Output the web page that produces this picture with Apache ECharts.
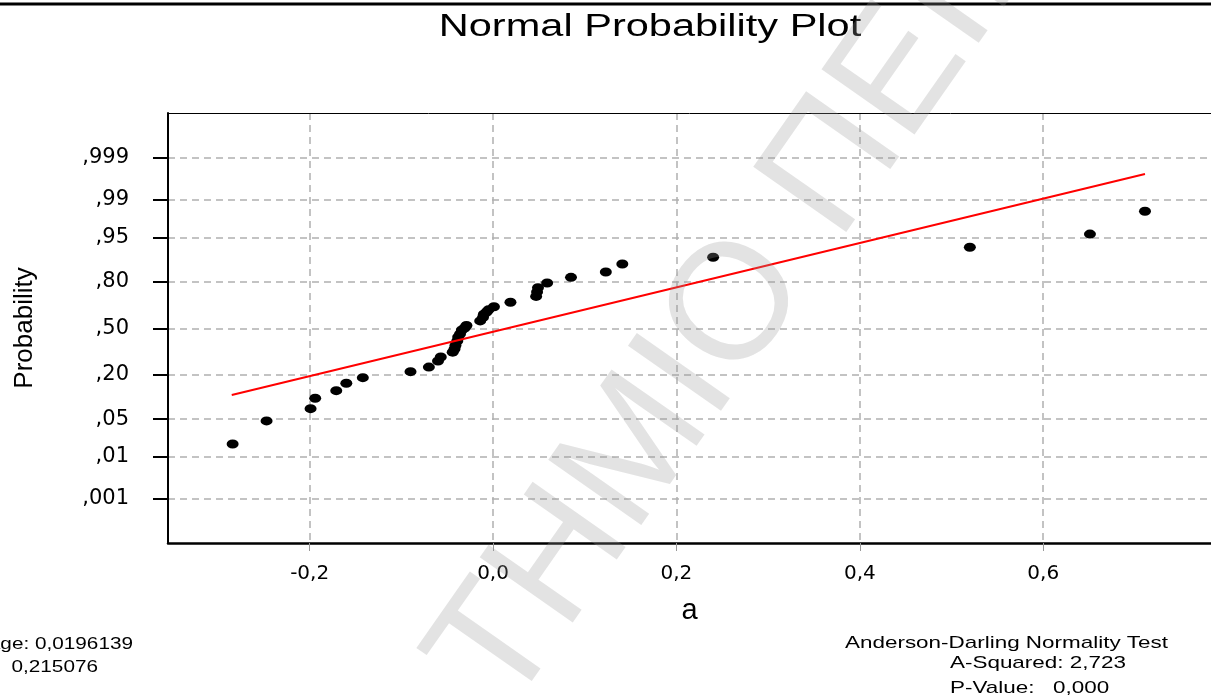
<!DOCTYPE html>
<html>
<head>
<meta charset="utf-8">
<title>Normal Probability Plot</title>
<script src="https://cdn.jsdelivr.net/npm/echarts@6/dist/echarts.min.js"></script>
<style>
  html, body { margin: 0; padding: 0; background: #ffffff; }
  #chart { width: 1211px; height: 699px; }
</style>
</head>
<body>
<div id="chart"></div>
<script>
// Sample values of "a", sorted ascending
const sampleA = [-0.284, -0.247, -0.199, -0.194, -0.171, -0.160, -0.142, -0.090, -0.070, -0.060,
                 -0.057, -0.044, -0.042, -0.041, -0.039, -0.038, -0.036, -0.034, -0.031, -0.029,
                 -0.014, -0.011, -0.010, -0.007, -0.005, 0.001, 0.019, 0.047, 0.048, 0.049,
                 0.059, 0.085, 0.123, 0.141, 0.240, 0.520, 0.651, 0.711];
// Cumulative probability of each sample (percent)
const probPct = [1.80, 4.66, 7.26, 10.24, 12.92, 15.96, 18.54, 21.59, 24.10, 27.69,
                 30.15, 33.25, 35.38, 37.76, 40.90, 43.72, 45.88, 48.76, 50.2, 52.0,
                 55.3, 57.8, 60.0, 61.6, 63.1, 65.2, 68.1, 71.8, 74.5, 76.9,
                 79.4, 82.2, 84.6, 87.8, 90.1, 92.9, 95.6, 98.3];
// Reference line end points
const fitA = [-0.285, 0.711];
const fitPct = [11.35, 99.74];

// Axis ticks
const probTicks = [0.001, 0.01, 0.05, 0.20, 0.50, 0.80, 0.95, 0.99, 0.999];
const probTickLabels = [',001', ',01', ',05', ',20', ',50', ',80', ',95', ',99', ',999'];
const aTicks = [-0.2, 0, 0.2, 0.4, 0.6];
const aTickLabels = ['-0,2', '0,0', '0,2', '0,4', '0,6'];

// Summary text
const statsLeft = ['Average: 0,0196139', 'StDev:  0,215076'];
const statsRight = ['Anderson-Darling Normality Test', 'A-Squared: 2,723', 'P-Value:   0,000'];

// Inverse standard normal CDF (Acklam) - maps probability onto the normal-score axis
function probit(p) {
  const a = [-3.969683028665376e+01, 2.209460984245205e+02, -2.759285104469687e+02,
             1.383577518672690e+02, -3.066479806614716e+01, 2.506628277459239e+00];
  const b = [-5.447609879822406e+01, 1.615858368580409e+02, -1.556989798598866e+02,
             6.680131188771972e+01, -1.328068155288572e+01];
  const c = [-7.784894002430293e-03, -3.223964580411365e-01, -2.400758277161838e+00,
             -2.549732539343734e+00, 4.374664141464968e+00, 2.938163982698783e+00];
  const d = [7.784695709041462e-03, 3.224671290700398e-01, 2.445134137142996e+00,
             3.754408661907416e+00];
  const pl = 0.02425;
  let q, r;
  if (p < pl) {
    q = Math.sqrt(-2 * Math.log(p));
    return (((((c[0]*q+c[1])*q+c[2])*q+c[3])*q+c[4])*q+c[5]) / ((((d[0]*q+d[1])*q+d[2])*q+d[3])*q+1);
  }
  if (p > 1 - pl) {
    q = Math.sqrt(-2 * Math.log(1 - p));
    return -(((((c[0]*q+c[1])*q+c[2])*q+c[3])*q+c[4])*q+c[5]) / ((((d[0]*q+d[1])*q+d[2])*q+d[3])*q+1);
  }
  q = p - 0.5; r = q * q;
  return (((((a[0]*r+a[1])*r+a[2])*r+a[3])*r+a[4])*r+a[5])*q / (((((b[0]*r+b[1])*r+b[2])*r+b[3])*r+b[4])*r+1);
}

const zTicks = probTicks.map(probit);
const points = sampleA.map((v, i) => [v, probit(probPct[i] / 100)]);
const fitLine = fitA.map((v, i) => [v, probit(fitPct[i] / 100)]);

function nearestLabel(values, labels, v) {
  let best = 0;
  for (let i = 1; i < values.length; i++) {
    if (Math.abs(values[i] - v) < Math.abs(values[best] - v)) best = i;
  }
  return labels[best];
}

const FONT = 'Liberation Sans, Arial, sans-serif';
const gridDash = { color: '#b0b0b0', width: 1.5, type: [7, 5] };

const chart = echarts.init(document.getElementById('chart'), null, { renderer: 'canvas' });

chart.setOption({
  backgroundColor: '#ffffff',
  animation: false,
  grid: { left: 168, top: 113, width: 1050, height: 430, containLabel: false },
  xAxis: [{
    type: 'value',
    min: -0.3545,
    max: 0.783,
    name: 'a',
    nameLocation: 'middle',
    nameGap: 53,
    nameTextStyle: { fontFamily: FONT, fontSize: 29, color: '#000' },
    axisLine: { onZero: false, lineStyle: { color: '#000', width: 2.5 } },
    axisTick: { show: true, customValues: aTicks, length: 8, lineStyle: { color: '#999', width: 1 } },
    axisLabel: {
      customValues: aTicks,
      margin: 21,
      fontFamily: 'DejaVu Sans',
      fontSize: 20,
      color: '#000',
      formatter: v => nearestLabel(aTicks, aTickLabels, v)
    },
    splitLine: { show: true, lineStyle: gridDash }
  }, {
    type: 'value',
    position: 'top',
    min: -0.3545,
    max: 0.783,
    axisLine: { show: true, onZero: false, lineStyle: { color: '#000', width: 1 } },
    axisTick: { show: false },
    axisLabel: { show: false },
    splitLine: { show: false }
  }],
  yAxis: {
    type: 'value',
    min: -3.89,
    max: 3.90,
    name: 'Probability',
    nameLocation: 'middle',
    nameRotate: 90,
    nameGap: 130,
    nameTextStyle: { fontFamily: FONT, fontSize: 26, color: '#000' },
    axisLine: { show: true, onZero: false, lineStyle: { color: '#000', width: 2 } },
    axisTick: { show: true, customValues: zTicks, length: 15, lineStyle: { color: '#000', width: 2 } },
    axisLabel: {
      customValues: zTicks,
      margin: 39,
      fontFamily: 'DejaVu Sans',
      fontSize: 21,
      color: '#000',
      formatter: v => nearestLabel(zTicks, probTickLabels, v)
    },
    splitLine: { show: true, lineStyle: gridDash }
  },
  series: [{
    type: 'scatter',
    data: points,
    symbol: 'circle',
    symbolSize: [12, 9],
    itemStyle: { color: '#000', opacity: 1 },
    z: 3
  }, {
    type: 'line',
    data: fitLine,
    symbol: 'none',
    lineStyle: { color: '#ff0000', width: 2 },
    z: 4
  }],
  graphic: [
    // page rule along the top
    { type: 'line', shape: { x1: 0, y1: 4, x2: 1211, y2: 4 }, style: { stroke: '#000', lineWidth: 3 }, z: 10 },
    // title
    { type: 'text', x: 650, y: 27, scaleX: 1.34, z: 10,
      style: { text: 'Normal Probability Plot', fontFamily: FONT, fontSize: 31, fill: '#000',
               textAlign: 'center', textVerticalAlign: 'middle' } },
    // summary statistics, lower left
    { type: 'text', x: 133, y: 644, scaleX: 1.22, z: 10,
      style: { text: statsLeft[0], fontFamily: FONT, fontSize: 17, fill: '#000',
               textAlign: 'right', textVerticalAlign: 'middle' } },
    { type: 'text', x: 98, y: 667, scaleX: 1.22, z: 10,
      style: { text: statsLeft[1], fontFamily: FONT, fontSize: 17, fill: '#000',
               textAlign: 'right', textVerticalAlign: 'middle' } },
    // normality test, lower right
    { type: 'text', x: 845, y: 643, scaleX: 1.32, z: 10,
      style: { text: statsRight[0], fontFamily: FONT, fontSize: 17, fill: '#000',
               textAlign: 'left', textVerticalAlign: 'middle' } },
    { type: 'text', x: 950, y: 663, scaleX: 1.32, z: 10,
      style: { text: statsRight[1], fontFamily: FONT, fontSize: 17, fill: '#000',
               textAlign: 'left', textVerticalAlign: 'middle' } },
    { type: 'text', x: 950, y: 688, scaleX: 1.32, z: 10,
      style: { text: statsRight[2], fontFamily: FONT, fontSize: 17, fill: '#000',
               textAlign: 'left', textVerticalAlign: 'middle' } },
    // diagonal watermark
    { type: 'text', x: 470, y: 690, rotation: 55 * Math.PI / 180, z: 20, silent: true,
      style: { text: 'ΤΗΜΙΟ ΠΕΙΡΑΙΩΣ', fontFamily: FONT, fontSize: 165,
               fill: 'rgba(150,150,150,0.27)', textAlign: 'left', textVerticalAlign: 'middle' } }
  ]
});
</script>
</body>
</html>
